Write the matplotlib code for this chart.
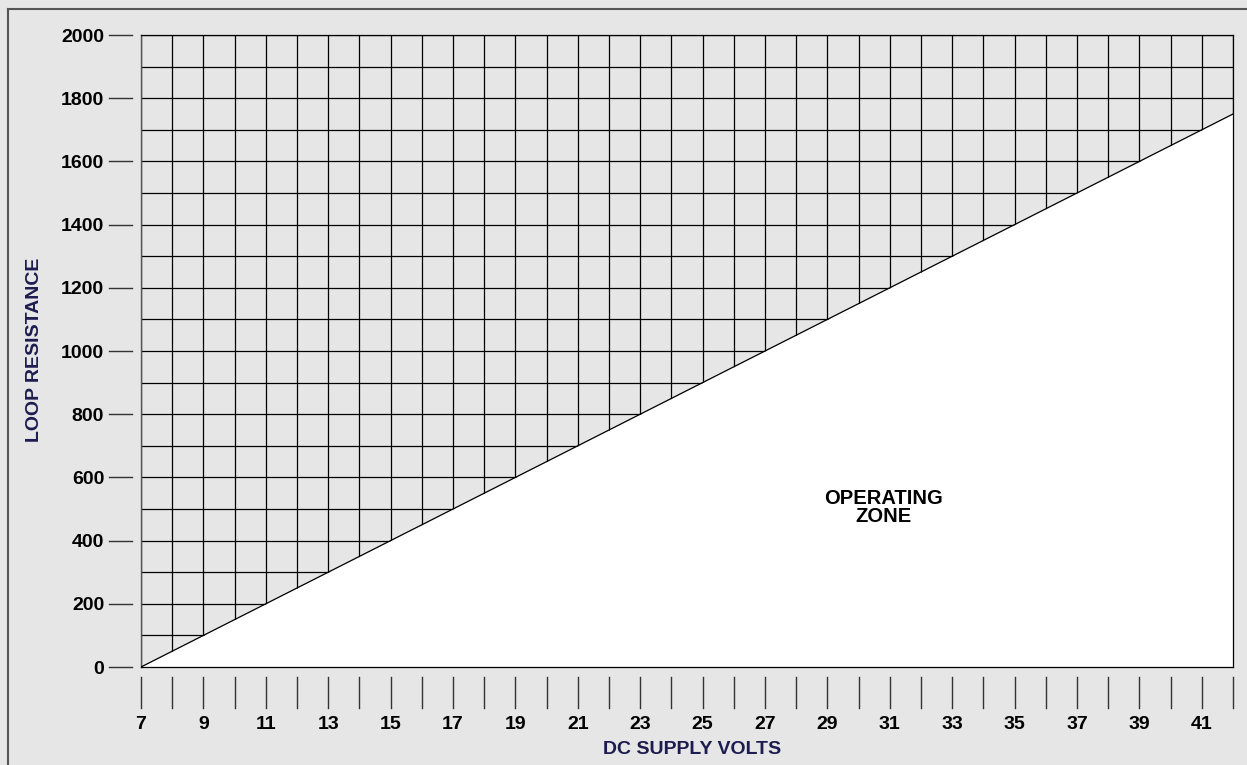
import matplotlib
matplotlib.use("Agg")
import matplotlib.pyplot as plt
from matplotlib.lines import Line2D
import matplotlib.transforms as mtransforms

# ---- data ----
volts = [7, 42]
loop_resistance = [0, 1750]
x_grid = list(range(7, 43))
x_labels = [str(v) if v % 2 == 1 else "" for v in x_grid]
y_grid = list(range(0, 2001, 100))
y_labels = [str(v) if v % 200 == 0 else "" for v in y_grid]
y_tick_marks = list(range(0, 2001, 200))
zone_label = "OPERATING\nZONE"
zone_pos = (30.8, 505)

plt.rcParams['font.family'] = ['Liberation Sans', 'DejaVu Sans']

bg = "#e6e6e6"
fig = plt.figure(figsize=(12.47, 7.65), dpi=100, facecolor=bg)
ax = fig.add_axes([141/1247, 1 - 667/765, 1092/1247, 632/765])
ax.set_facecolor(bg)
ax.set_xlim(7, 42)
ax.set_ylim(0, 2000)

ax.set_xticks(x_grid)
ax.set_xticklabels(x_labels, fontsize=14, fontweight='bold')
ax.set_yticks(y_grid)
ax.set_yticklabels(y_labels, fontsize=14, fontweight='bold')
ax.tick_params(axis='both', length=0)
ax.tick_params(axis='x', pad=35)
ax.tick_params(axis='y', pad=26.5)
ax.set_axisbelow(True)
ax.grid(True, color='black', linewidth=0.9)

# operating zone (white region under line)
ax.fill_between(volts, loop_resistance, 0, color='white', zorder=2, linewidth=0)
ax.plot(volts, loop_resistance, color='black', linewidth=0.9, zorder=3)

for side in ['top', 'right', 'bottom']:
    ax.spines[side].set_color('black')
    ax.spines[side].set_linewidth(0.9)
ax.spines['left'].set_color('#555555')
ax.spines['left'].set_linewidth(1.0)

# custom detached tick marks
ty = mtransforms.blended_transform_factory(ax.transAxes, ax.transData)
for v in y_tick_marks:
    ax.add_line(Line2D([-0.0293, -0.0082], [v, v], transform=ty, color='#333333',
                       linewidth=1.0, clip_on=False))
tx = mtransforms.blended_transform_factory(ax.transData, ax.transAxes)
for v in x_grid:
    ax.add_line(Line2D([v, v], [-0.0158, -0.0649], transform=tx, color='#333333',
                       linewidth=1.0, clip_on=False))

ax.text(zone_pos[0], zone_pos[1], zone_label, ha='center', va='center',
        fontsize=14.5, fontweight='bold', linespacing=0.9, zorder=4)

navy = "#1c1c50"
fig.text(35/1247, 1 - 350/765, "LOOP RESISTANCE", rotation=90, ha='center', va='center',
         fontsize=14, fontweight='bold', color=navy)
fig.text(692/1247, 1 - 749/765, "DC SUPPLY VOLTS", ha='center', va='center',
         fontsize=14, fontweight='bold', color=navy)

# outer frame (left and top)
fig.add_artist(Line2D([8/1247, 8/1247], [0, 1 - 9/765], transform=fig.transFigure,
                      color='#555555', linewidth=1.5))
fig.add_artist(Line2D([8/1247, 1], [1 - 9/765, 1 - 9/765], transform=fig.transFigure,
                      color='#555555', linewidth=1.5))

fig.savefig("out.png", dpi=100, facecolor=bg)
